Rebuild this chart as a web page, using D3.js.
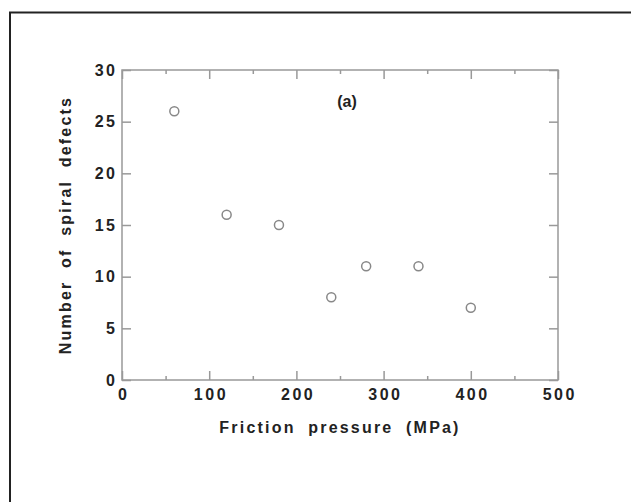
<!DOCTYPE html>
<html>
<head>
<meta charset="utf-8">
<script src="https://cdn.jsdelivr.net/npm/d3@7"></script>
<style>
  body { margin: 0; background: #fff; }
  text { font-family: Arial, "Liberation Sans", Helvetica, sans-serif; font-weight: bold; fill: #222; }
</style>
</head>
<body>
<div id="wrapper"></div>
<script>
// friction pressure (MPa) and spiral defect counts
const pressure = [60, 120, 180, 240, 280, 340, 400];
const defects = [26, 16, 15, 8, 11, 11, 7];
const xTicks = [0, 100, 200, 300, 400, 500];
const xMinor = [50, 150, 250, 350, 450];
const yTicks = [0, 5, 10, 15, 20, 25, 30];

const dimension = {
    width: 631,
    height: 502,
    margin: { top: 70, left: 122, bottom: 122, right: 73 }
};
dimension.boundedWidth = dimension.width - dimension.margin.left - dimension.margin.right;
dimension.boundedHeight = dimension.height - dimension.margin.top - dimension.margin.bottom;

const svg = d3.select("#wrapper").append("svg")
    .attr("width", dimension.width)
    .attr("height", dimension.height);

// outer frame (top + left only)
svg.append("path")
    .attr("d", "M10,502 L10,12.5 L631,12.5")
    .attr("fill", "none")
    .attr("stroke", "#222")
    .attr("stroke-width", 2);

const bounded = svg.append("g")
    .attr("transform", `translate(${dimension.margin.left},${dimension.margin.top})`);

const xScaler = d3.scaleLinear().domain([0, 500]).range([0, dimension.boundedWidth]);
const yScaler = d3.scaleLinear().domain([0, 30]).range([dimension.boundedHeight, 0]);

const axisColor = "#999";
const spacing = 2.5;

// frame of the plot
bounded.append("rect")
    .attr("width", dimension.boundedWidth)
    .attr("height", dimension.boundedHeight)
    .attr("fill", "none")
    .attr("stroke", axisColor)
    .attr("stroke-width", 1.5);

function styleAxis(g) {
    g.select(".domain").remove();
    g.selectAll(".tick line").attr("stroke", axisColor).attr("stroke-width", 1.5);
    g.selectAll(".tick text")
        .style("font-size", "16px")
        .style("letter-spacing", spacing + "px")
        .attr("fill", "#222");
}

// bottom
bounded.append("g")
    .attr("transform", `translate(0,${dimension.boundedHeight})`)
    .call(d3.axisBottom(xScaler).tickValues(xTicks).tickSizeInner(-9).tickSizeOuter(0).tickPadding(9).tickFormat(d3.format("d")))
    .call(styleAxis)
    .selectAll(".tick text").attr("dx", spacing / 2);
bounded.append("g")
    .attr("transform", `translate(0,${dimension.boundedHeight})`)
    .call(d3.axisBottom(xScaler).tickValues(xMinor).tickSizeInner(-4).tickSizeOuter(0).tickFormat(""))
    .call(styleAxis);
// top
bounded.append("g")
    .call(d3.axisTop(xScaler).tickValues(xTicks).tickSizeInner(-9).tickSizeOuter(0).tickFormat(""))
    .call(styleAxis);
bounded.append("g")
    .call(d3.axisTop(xScaler).tickValues(xMinor).tickSizeInner(-4).tickSizeOuter(0).tickFormat(""))
    .call(styleAxis);
// left
bounded.append("g")
    .call(d3.axisLeft(yScaler).tickValues(yTicks).tickSizeInner(-9).tickSizeOuter(0).tickPadding(7).tickFormat(d3.format("d")))
    .call(styleAxis)
    .selectAll(".tick text").attr("dx", spacing);
// right
bounded.append("g")
    .attr("transform", `translate(${dimension.boundedWidth},0)`)
    .call(d3.axisRight(yScaler).tickValues(yTicks).tickSizeInner(-9).tickSizeOuter(0).tickFormat(""))
    .call(styleAxis);

// points
bounded.selectAll("circle")
    .data(pressure)
    .join("circle")
    .attr("cx", d => xScaler(d))
    .attr("cy", (d, i) => yScaler(defects[i]))
    .attr("r", 4.5)
    .attr("fill", "none")
    .attr("stroke", "#888")
    .attr("stroke-width", 1.5);

// panel label
bounded.append("text")
    .attr("x", xScaler(258))
    .attr("y", 37)
    .attr("text-anchor", "middle")
    .style("font-size", "16px")
    .text("(a)");

// axis titles
bounded.append("text")
    .attr("x", dimension.boundedWidth / 2)
    .attr("y", dimension.boundedHeight + 53)
    .attr("text-anchor", "middle")
    .style("font-size", "16px")
    .style("letter-spacing", "2.2px")
    .style("word-spacing", "6px")
    .text("Friction pressure (MPa)");

bounded.append("text")
    .attr("transform", `translate(-51,${dimension.boundedHeight / 2}) rotate(-90)`)
    .attr("text-anchor", "middle")
    .style("font-size", "16px")
    .style("letter-spacing", "2.2px")
    .style("word-spacing", "6px")
    .text("Number of spiral defects");
</script>
</body>
</html>
